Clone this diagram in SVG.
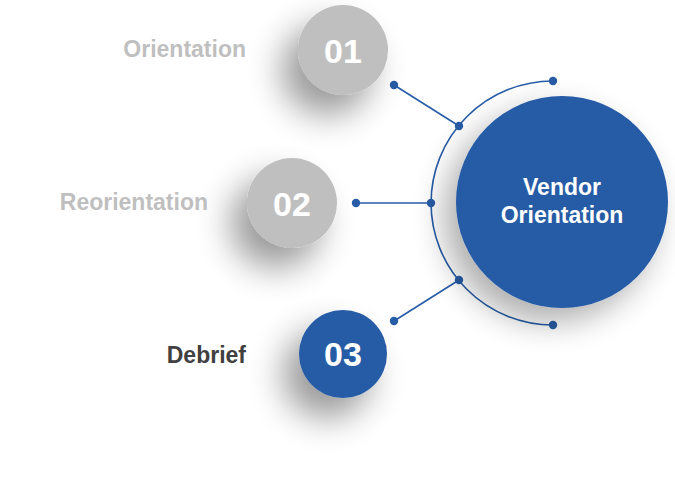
<svg xmlns="http://www.w3.org/2000/svg" width="675" height="480" viewBox="0 0 675 480">
<defs>
<filter id="sh" x="-100%" y="-100%" width="300%" height="300%">
<feGaussianBlur in="SourceAlpha" stdDeviation="17"/>
<feOffset dx="-16" dy="20" result="b"/>
<feComponentTransfer><feFuncA type="linear" slope="0.4"/></feComponentTransfer>
<feMerge><feMergeNode/><feMergeNode in="SourceGraphic"/></feMerge>
</filter>
<filter id="shb" x="-60%" y="-60%" width="220%" height="220%">
<feGaussianBlur in="SourceAlpha" stdDeviation="16"/>
<feOffset dx="-12" dy="14" result="b"/>
<feComponentTransfer><feFuncA type="linear" slope="0.32"/></feComponentTransfer>
<feMerge><feMergeNode/><feMergeNode in="SourceGraphic"/></feMerge>
</filter>
</defs>
<style>
.lbl{font-family:"Liberation Sans",Arial,sans-serif;font-weight:bold;font-size:23px;text-anchor:end}
.num{font-family:"Liberation Sans",Arial,sans-serif;font-weight:bold;font-size:34px;fill:#fff;text-anchor:middle}
.ctr{font-family:"Liberation Sans",Arial,sans-serif;font-weight:bold;font-size:23px;fill:#fff;text-anchor:middle}
.ln{stroke:#275CA6;stroke-width:1.6;fill:none}
.dot{fill:#275CA6}
</style>
<rect width="675" height="480" fill="#fff"/>
<g id="connectors">
<path class="ln" d="M553,81 A121,121 0 0 0 553,325"/>
<line class="ln" x1="394" y1="85" x2="459" y2="126"/>
<line class="ln" x1="356" y1="203" x2="431" y2="203"/>
<line class="ln" x1="394" y1="321" x2="459" y2="280"/>
<circle class="dot" cx="553" cy="81" r="4.2"/>
<circle class="dot" cx="553" cy="325" r="4.2"/>
<circle class="dot" cx="394" cy="85" r="4.2"/>
<circle class="dot" cx="459" cy="126" r="4.2"/>
<circle class="dot" cx="356" cy="203" r="4.2"/>
<circle class="dot" cx="431" cy="203" r="4.2"/>
<circle class="dot" cx="394" cy="321" r="4.2"/>
<circle class="dot" cx="459" cy="280" r="4.2"/>
</g>
<g id="center">
<circle cx="562" cy="202" r="106" fill="#275CA6" filter="url(#shb)"/>
<text class="ctr" x="562" y="195">Vendor</text>
<text class="ctr" x="562" y="223">Orientation</text>
</g>
<g id="step1">
<circle cx="343" cy="50" r="45" fill="#BFBFBF" filter="url(#sh)"/>
<text class="num" x="343" y="63">01</text>
<text class="lbl" x="246" y="57" fill="#BFBFBF">Orientation</text>
</g>
<g id="step2">
<circle cx="292" cy="203" r="45" fill="#BFBFBF" filter="url(#sh)"/>
<text class="num" x="292" y="216">02</text>
<text class="lbl" x="208" y="210" fill="#BFBFBF">Reorientation</text>
</g>
<g id="step3">
<circle cx="343" cy="354" r="44" fill="#275CA6" filter="url(#sh)"/>
<text class="num" x="343" y="366">03</text>
<text class="lbl" x="246" y="363" fill="#404040">Debrief</text>
</g>
</svg>
